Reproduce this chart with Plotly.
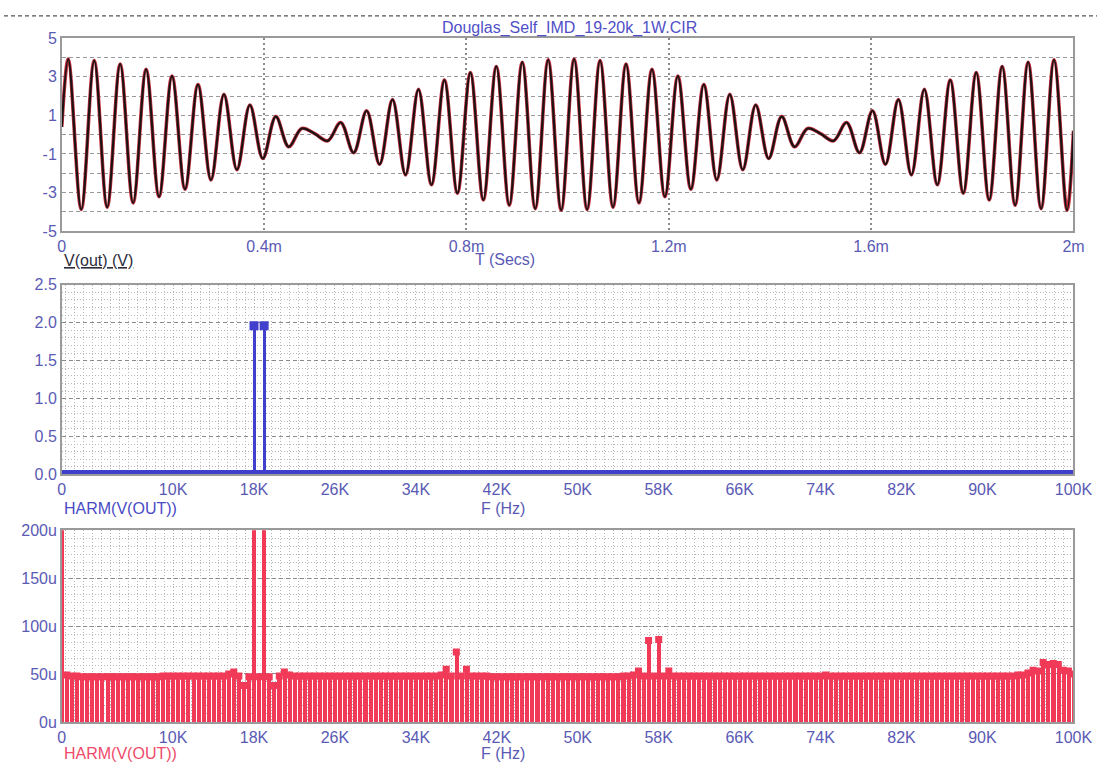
import plotly.graph_objects as go

W, H = 1116, 771

# ---------------- data ----------------
# Top trace V(out): extrema (time in microseconds, volts)
T_EXT_US = [0.0, 12.8, 38.5, 64.1, 89.7, 115.4, 141.0, 166.7, 192.3, 217.9, 243.6,
            269.2, 294.9, 320.5, 346.2, 371.8, 397.4, 423.1, 448.7, 474.4, 500.0,
            525.6, 551.3, 576.9, 602.6, 628.2, 653.8, 679.5, 705.1, 730.8, 756.4,
            782.1, 807.7, 833.3, 859.0, 884.6, 910.3, 935.9, 961.5, 987.2, 1012.8,
            1038.5, 1064.1, 1089.7, 1115.4, 1141.0, 1166.7, 1192.3, 1217.9, 1243.6, 1269.2,
            1294.9, 1320.5, 1346.2, 1371.8, 1397.4, 1423.1, 1448.7, 1474.4, 1500.0, 1525.6,
            1551.3, 1576.9, 1602.6, 1628.2, 1653.8, 1679.5, 1705.1, 1730.8, 1756.4, 1782.1,
            1807.7, 1833.3, 1859.0, 1884.6, 1910.3, 1935.9, 1961.5, 1987.2, 2000.0]
V_EXT = [0.4, 3.92, -3.88, 3.84, -3.76, 3.66, -3.54, 3.39, -3.22, 3.04, -2.83,
         2.60, -2.35, 2.09, -1.82, 1.54, -1.24, 0.94, -0.63, 0.32, 0.05,
         -0.32, 0.63, -0.94, 1.24, -1.54, 1.82, -2.09, 2.35, -2.60, 2.83,
         -3.04, 3.22, -3.39, 3.54, -3.66, 3.76, -3.84, 3.88, -3.92, 3.92,
         -3.88, 3.84, -3.76, 3.66, -3.54, 3.39, -3.22, 3.04, -2.83, 2.60,
         -2.35, 2.09, -1.82, 1.54, -1.24, 0.94, -0.63, 0.32, 0.05, -0.32,
         0.63, -0.94, 1.24, -1.54, 1.82, -2.09, 2.35, -2.60, 2.83, -3.04,
         3.22, -3.39, 3.54, -3.66, 3.76, -3.84, 3.88, -3.92, 0.2]

# Spectrum bins (Hz)
FREQ_STEP_HZ = 500
N_BINS = 201

# Blue spectrum (V): only the two tones stand above zero
BLUE_PEAK_F = [19000, 20000]
BLUE_PEAK_V = [1.96, 1.96]

# Red spectrum, zoomed (microvolts) one value per 500 Hz bin, 0 .. 100 kHz
RED_UV = [
    3000,
    49, 48, 48, 47, 47, 47, 47, 47, 47,
    47, 47, 47, 47, 47, 47, 47, 47, 47, 47,
    48, 48, 48, 48, 48, 48, 48, 48, 48, 48,
    48, 48, 48, 50, 52, 48, 38, 47, 1960000, 47,
    1960000, 47, 38, 48, 52, 49, 48, 48, 48, 48,
    48, 48, 48, 48, 48, 48, 48, 48, 48, 48,
    48, 48, 48, 48, 48, 48, 48, 48, 48, 48,
    48, 48, 48, 48, 48, 49, 55, 48, 73, 48,
    55, 48, 48, 48, 48, 47, 47, 47, 47, 47,
    47, 47, 47, 47, 47, 47, 47, 47, 47, 47,
    47, 47, 47, 47, 47, 47, 47, 47, 47, 47,
    47, 48, 48, 49, 53, 48, 85, 48, 86, 48,
    53, 48, 48, 48, 48, 48, 48, 48, 48, 48,
    48, 48, 48, 48, 48, 48, 48, 48, 48, 48,
    48, 48, 48, 48, 48, 48, 48, 48, 48, 48,
    48, 49, 48, 48, 48, 48, 48, 48, 48, 48,
    48, 48, 48, 48, 48, 48, 48, 48, 48, 48,
    48, 48, 48, 48, 48, 48, 48, 48, 48, 48,
    48, 48, 48, 48, 48, 48, 48, 48, 48, 49,
    49, 51, 54, 53, 62, 60, 61, 60, 54, 53,
    50,
]

TIME_TICKS_MS = [0, 0.4, 0.8, 1.2, 1.6, 2.0]
TIME_TICK_TEXT = ["0", "0.4m", "0.8m", "1.2m", "1.6m", "2m"]
VOLT_TICKS = [-5, -3, -1, 1, 3, 5]
VOLT_TICK_TEXT = ["-5", "-3", "-1", "1", "3", "5"]
FREQ_TICK_POS = [0, 11000, 19000, 27000, 35000, 43000, 51000, 59000, 67000, 75000, 83000, 91000, 100000]
FREQ_TICK_TEXT = ["0", "10K", "18K", "26K", "34K", "42K", "50K", "58K", "66K", "74K", "82K", "90K", "100K"]
UV_TICKS = [0, 50, 100, 150, 200]
UV_TICK_TEXT = ["0u", "50u", "100u", "150u", "200u"]

# ---------------- derived ----------------
freqs = [i * FREQ_STEP_HZ for i in range(N_BINS)]
blue_vals = [0.0] * N_BINS
for f, v in zip(BLUE_PEAK_F, BLUE_PEAK_V):
    blue_vals[f // FREQ_STEP_HZ] = v
t_ms = [t / 1000.0 for t in T_EXT_US]

# ---------------- style ----------------
FONT = "Liberation Sans, Arial, sans-serif"
TICK_COL = "#5a5ab4"
FRAME_COL = "#9a9a9a"
RED = "#f03a58"
BLUE = "#4040cc"
DOT = "1px,2px"

X0, X1 = 59 / W, 1092 / W


def py(px):
    return 1 - px / H


fig = go.Figure()

# top waveform
fig.add_trace(go.Scatter(x=t_ms, y=V_EXT, mode="lines", xaxis="x", yaxis="y",
                         line=dict(color="#c83040", width=3.6, shape="spline", smoothing=1.0),
                         hoverinfo="skip", showlegend=False))
fig.add_trace(go.Scatter(x=t_ms, y=V_EXT, mode="lines", xaxis="x", yaxis="y",
                         line=dict(color="#1c1414", width=2.2, shape="spline", smoothing=1.0),
                         showlegend=False))

# blue spectrum
fig.add_trace(go.Bar(x=freqs, y=blue_vals, width=300, xaxis="x2", yaxis="y2",
                     marker=dict(color=BLUE, line=dict(width=0)), showlegend=False))
fig.add_trace(go.Scatter(x=freqs, y=blue_vals, mode="markers", xaxis="x2", yaxis="y2",
                         marker=dict(symbol="square", size=9, color=BLUE, line=dict(width=0)),
                         showlegend=False))

# red spectrum
fig.add_trace(go.Bar(x=freqs, y=RED_UV, width=400, xaxis="x3", yaxis="y3",
                     marker=dict(color=RED, line=dict(width=0)), showlegend=False))
fig.add_trace(go.Scatter(x=freqs, y=RED_UV, mode="markers", xaxis="x3", yaxis="y3",
                         marker=dict(symbol="square", size=7, color=RED, line=dict(width=0)),
                         showlegend=False))

minor_x_freq = [11000 + k * 8000 / 9 for k in range(-12, 100) if 0 < 11000 + k * 8000 / 9 < 100000]

common_axis = dict(showline=True, mirror=True, linecolor=FRAME_COL, linewidth=1.5,
                   zeroline=False, ticks="", tickfont=dict(family=FONT, size=16, color=TICK_COL))

layout = dict(
    width=W, height=H, margin=dict(l=0, r=0, t=0, b=0),
    paper_bgcolor="white", plot_bgcolor="white", barmode="overlay", bargap=0,
    font=dict(family=FONT),
    xaxis=dict(domain=[X0, X1], anchor="y", range=[0, 2], tickmode="array",
               tickvals=TIME_TICKS_MS, ticktext=TIME_TICK_TEXT,
               showgrid=True, gridcolor="#8a8a8a", griddash="2px,3px", gridwidth=1.5, **common_axis),
    yaxis=dict(domain=[py(228), py(31)], anchor="x", range=[-5, 5], tickmode="array",
               tickvals=VOLT_TICKS, ticktext=VOLT_TICK_TEXT,
               showgrid=True, gridcolor="#9a9a9a", griddash="4px,3px", gridwidth=1.2,
               minor=dict(dtick=1, tick0=-5, showgrid=True, gridcolor="#9a9a9a", griddash="4px,3px", gridwidth=1.2),
               **common_axis),
    xaxis2=dict(domain=[X0, X1], anchor="y2", range=[0, 100000], tickmode="array",
                tickvals=FREQ_TICK_POS, ticktext=FREQ_TICK_TEXT,
                showgrid=True, gridcolor="#b0b0b0", griddash=DOT,
                minor=dict(tickmode="array", tickvals=minor_x_freq, showgrid=True, gridcolor="#b8b8b8", griddash=DOT),
                **common_axis),
    yaxis2=dict(domain=[py(477), py(283)], anchor="x2", range=[0, 2.5], tick0=0, dtick=0.5, tickformat=".1f",
                showgrid=True, gridcolor="#8a8a8a", griddash="4px,3px", gridwidth=1.2,
                minor=dict(dtick=0.1, tick0=0, showgrid=True, gridcolor="#b8b8b8", griddash=DOT),
                **common_axis),
    xaxis3=dict(domain=[X0, X1], anchor="y3", range=[0, 100000], tickmode="array",
                tickvals=FREQ_TICK_POS, ticktext=FREQ_TICK_TEXT,
                showgrid=True, gridcolor="#b0b0b0", griddash=DOT,
                minor=dict(tickmode="array", tickvals=minor_x_freq, showgrid=True, gridcolor="#b8b8b8", griddash=DOT),
                **common_axis),
    yaxis3=dict(domain=[py(730), py(534)], anchor="x3", range=[0, 200], tickmode="array",
                tickvals=UV_TICKS, ticktext=UV_TICK_TEXT,
                showgrid=True, gridcolor="#8a8a8a", griddash="4px,3px", gridwidth=1.2,
                minor=dict(dtick=50 / 6, tick0=0, showgrid=True, gridcolor="#b8b8b8", griddash=DOT),
                **common_axis),
)
fig.update_layout(**layout)


def ann(text, xpx, ypx, color, anchor="left", size=16):
    fig.add_annotation(text=text, x=xpx / W, y=py(ypx), xref="paper", yref="paper",
                       xanchor=anchor, yanchor="middle", showarrow=False,
                       font=dict(family=FONT, size=size, color=color))


ann("Douglas_Self_IMD_19-20k_1W.CIR", 577, 20, "#5050c8", "center")
ann("<u>V(out) (V)</u>", 59, 258, "#2c2c3c")
ann("T (Secs)", 512, 257, TICK_COL, "center")
ann("HARM(V(OUT))", 59, 512, "#4a4ac4")
ann("F (Hz)", 510, 512, TICK_COL, "center")
ann("HARM(V(OUT))", 59, 762, "#f04a6a")
ann("F (Hz)", 510, 762, TICK_COL, "center")

fig.add_shape(type="line", xref="paper", yref="paper", x0=0, x1=1, y0=py(8), y1=py(8),
              line=dict(color="#555555", width=1.2, dash="4px,3px"))

fig.write_html("out.html")
